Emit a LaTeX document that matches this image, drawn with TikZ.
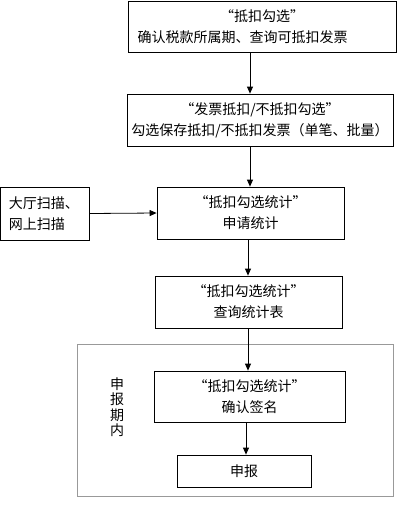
\documentclass[tikz,border=0pt]{standalone}
\usepackage{fontspec}
\setmainfont{Noto Sans CJK SC}
\usetikzlibrary{arrows.meta}
\begin{document}
\begin{tikzpicture}[x=1pt,y=-1pt,
  box/.style={draw=black,line width=0.8pt,align=center,inner sep=0pt,
    font=\fontsize{14}{21}\selectfont},
  arr/.style={draw=black,line width=0.8pt,-{Triangle[length=7pt,width=6pt]}},
  lbl/.style={align=center,inner sep=0pt,font=\fontsize{14}{15.5}\selectfont}]
\useasboundingbox (0,0) rectangle (417,520);
\draw[gray!80,line width=0.8pt] (77,344) rectangle (393,496);
\node[box,minimum width=268pt,minimum height=51pt] (b1) at (262,26.5) {“抵扣勾选”\\确认税款所属期、查询可抵扣发票\hspace*{39pt}};
\node[box,minimum width=266pt,minimum height=52pt] (b2) at (260,120) {“发票抵扣/不抵扣勾选”\\勾选保存抵扣/不抵扣发票（单笔、批量）};
\node[box,minimum width=187pt,minimum height=52pt] (b3) at (250.5,213) {“抵扣勾选统计”\\申请统计};
\node[box,minimum width=89pt,minimum height=53pt,align=left,text width=72pt] (b0) at (45,213.5) {大厅扫描、\\网上扫描};
\node[box,minimum width=187pt,minimum height=52pt] (b4) at (248.5,302) {“抵扣勾选统计”\\查询统计表};
\node[box,minimum width=191pt,minimum height=51pt] (b5) at (249.5,396.5) {“抵扣勾选统计”\\确认签名};
\node[box,minimum width=134pt,minimum height=32pt] (b6) at (244,471) {申报};
\node[lbl] (v) at (117,407) {申\\报\\期\\内};
\coordinate (x1) at (250,0);
\coordinate (x3) at (248,0);
\coordinate (x5) at (246,0);
\draw[arr] (b1.south -| x1) -- (b2.north -| x1);
\draw[arr] (b2.south -| x1) -- (b3.north -| x1);
\draw[arr] (b0.east) -- (b3.west);
\draw[arr] (b3.south -| x3) -- (b4.north -| x3);
\draw[arr] (b4.south -| x3) -- (b5.north -| x3);
\draw[arr] (b5.south -| x5) -- (b6.north -| x5);
\end{tikzpicture}
\end{document}
